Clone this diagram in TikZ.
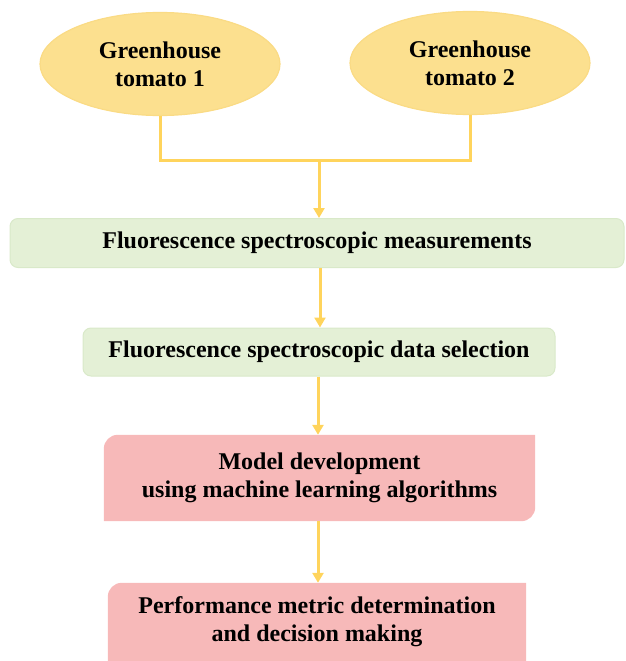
\documentclass[tikz,border=0pt]{standalone}
\usepackage{fontspec}
\setmainfont{Liberation Serif}
\usetikzlibrary{backgrounds,arrows.meta,shapes.geometric}
\definecolor{ellfill}{HTML}{FCE08F}
\definecolor{elldraw}{HTML}{FADB85}
\definecolor{grnfill}{HTML}{E4F0D6}
\definecolor{grndraw}{HTML}{D9E9C9}
\definecolor{redfill}{HTML}{F7B9B9}
\definecolor{arrcol}{HTML}{FFD45C}
\begin{document}
\begin{tikzpicture}[x=1pt,y=-1pt,
  every node/.style={font=\bfseries\fontsize{24}{28}\selectfont, align=center, inner sep=0pt},
  tomato/.style={ellipse, fill=ellfill, draw=elldraw, line width=1.2pt, minimum width=240pt, minimum height=103pt},
  greenbox/.style={rectangle, rounded corners=8pt, fill=grnfill, draw=grndraw, line width=1pt},
  redbox/.style={rectangle},
  link/.style={draw=arrcol, line width=3pt},
  flow/.style={link, -{Triangle[width=11pt,length=10pt]}}]
\useasboundingbox (0,0) rectangle (625,661);
\node[tomato] (e1) at (160,64) {Greenhouse\\tomato 1};
\node[tomato] (e2) at (470,63) {Greenhouse\\tomato 2};
\node[greenbox, minimum width=614pt, minimum height=49pt] (g1) at (317,243) {Fluorescence spectroscopic measurements};
\node[greenbox, minimum width=472pt, minimum height=48pt] (g2) at (319,352) {Fluorescence spectroscopic data selection};
\node[redbox, minimum width=431pt, minimum height=86pt] (m) at (319.5,478) {Model development\\using machine learning algorithms};
\node[redbox, minimum width=418pt, minimum height=78pt] (p) at (317,622) {Performance metric determination\\and decision making};
\begin{scope}[on background layer]
\fill[redfill] ([yshift=-14pt]m.north west) arc[start angle=180,end angle=90,radius=14pt] -- (m.north east) -- ([yshift=14pt]m.south east) arc[start angle=0,end angle=-90,radius=14pt] -- (m.south west) -- cycle;
\fill[redfill] ([yshift=-14pt]p.north west) arc[start angle=180,end angle=90,radius=14pt] -- (p.north east) -- ([yshift=-8pt]p.south east) -- ([yshift=-8pt]p.south west) -- cycle;
\end{scope}
\coordinate (j) at (319,160);
\draw[link] (e1.south) -- (e1.south |- j) -- (e2.south |- j) -- (e2.south);
\draw[flow] (j) -- (j |- g1.north);
\draw[flow] (g1.south -| 320,0) -- (320,0 |- g2.north);
\draw[flow] (g2.south -| 318,0) -- (318,0 |- m.north);
\draw[flow] (m.south -| 318,0) -- (318,0 |- p.north);
\end{tikzpicture}
\end{document}
